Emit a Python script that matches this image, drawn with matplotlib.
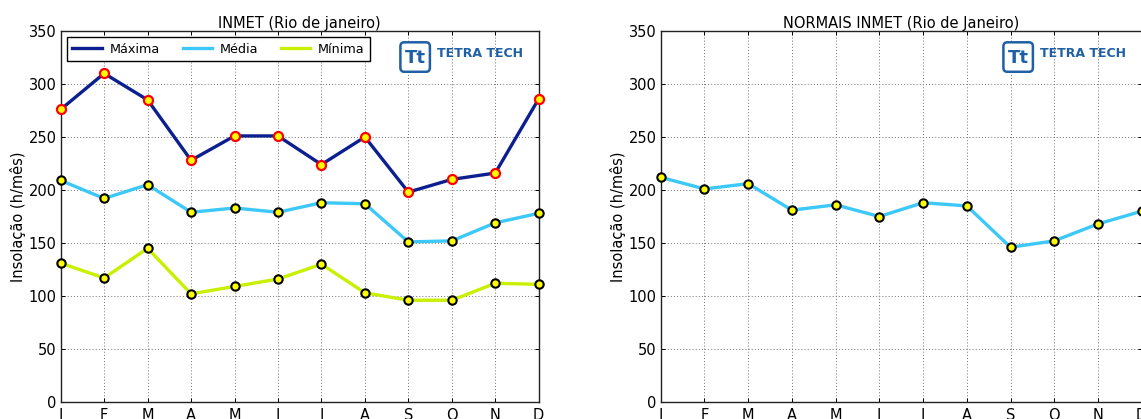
import matplotlib
matplotlib.use('Agg')
import matplotlib.pyplot as plt
from matplotlib.patches import FancyBboxPatch
from matplotlib.lines import Line2D

# ---------------- data ----------------
months = ['J', 'F', 'M', 'A', 'M', 'J', 'J', 'A', 'S', 'O', 'N', 'D']
maxima = [276, 310, 285, 228, 251, 251, 224, 250, 198, 210, 216, 286]
media = [209, 192, 205, 179, 183, 179, 188, 187, 151, 152, 169, 178]
minima = [131, 117, 145, 102, 109, 116, 130, 103, 96, 96, 112, 111]
normais = [212, 201, 206, 181, 186, 175, 188, 185, 146, 152, 168, 180]

title_left = 'INMET (Rio de janeiro)'
title_right = 'NORMAIS INMET (Rio de Janeiro)'
ylabel = 'Insolação (h/mês)'
legend_labels = ['Máxima', 'Média', 'Mínima']

# ---------------- style ----------------
W, H = 1141, 419
DPI = 100
C_MAX = '#0b1f8f'
C_MED = '#3cc8f8'
C_MIN = '#c8f000'
LOGO_BLUE = '#1f5fa6'

fig = plt.figure(figsize=(W / DPI, H / DPI), dpi=DPI)
fig.patch.set_facecolor('white')


def px_axes(x0, x1, ytop, ybot):
    return fig.add_axes([x0 / W, (H - ybot) / H, (x1 - x0) / W, (ybot - ytop) / H])


axL = px_axes(60.7, 538.7, 31, 402)
axR = px_axes(660.7, 1141.7, 31, 402)

x = list(range(len(months)))


def style_axes(ax, title):
    ax.set_xlim(0, 11)
    ax.set_ylim(0, 350)
    ax.set_yticks(range(0, 351, 50))
    ax.set_xticks(x)
    ax.set_xticklabels(months)
    ax.tick_params(direction='in', top=True, right=True, length=3.2, width=0.7,
                   labelsize=10.5, colors='black')
    ax.tick_params(axis='y', pad=3)
    ax.tick_params(axis='x', pad=4)
    ax.grid(True, color='0.45', linestyle=(0, (1, 2.2)), linewidth=0.7)
    ax.set_axisbelow(True)
    for s in ax.spines.values():
        s.set_linewidth(1.0)
        s.set_color('#222222')
    ax.set_title(title, fontsize=10.5, pad=2)
    ax.set_ylabel(ylabel, fontsize=10.5, labelpad=2)


def logo(ax):
    bb = ax.get_position()
    right_px = (bb.x0 + bb.width) * W
    top_px = (1 - (bb.y0 + bb.height)) * H  # from top
    bx0 = right_px - 139.5
    by_top = top_px + 10
    size = 32
    lax = fig.add_axes([bx0 / W, (H - by_top - size) / H, 130 / W, size / H])
    lax.set_xlim(0, 130)
    lax.set_ylim(0, size)
    lax.axis('off')
    box = FancyBboxPatch((1.2, 1.2), 29.5, 29.5,
                         boxstyle='round,pad=0,rounding_size=4',
                         facecolor='white', edgecolor=LOGO_BLUE, linewidth=1.8)
    lax.add_patch(box)
    lax.text(16, 15.5, 'Tt', ha='center', va='center', fontsize=13,
             fontweight='heavy', color=LOGO_BLUE)
    lax.text(38, 19.5, 'TETRA TECH', ha='left', va='center', fontsize=9,
             fontweight='bold', color=LOGO_BLUE)


# ---------------- left chart ----------------
style_axes(axL, title_left)
axL.plot(x, maxima, '-', color=C_MAX, lw=2.4, marker='o', markersize=6.5,
         markerfacecolor='yellow', markeredgecolor='red', markeredgewidth=1.6,
         label=legend_labels[0], clip_on=False, zorder=3)
axL.plot(x, media, '-', color=C_MED, lw=2.4, marker='o', markersize=6,
         markerfacecolor='yellow', markeredgecolor='black', markeredgewidth=1.5,
         label=legend_labels[1], clip_on=False, zorder=3)
axL.plot(x, minima, '-', color=C_MIN, lw=2.4, marker='o', markersize=6,
         markerfacecolor='yellow', markeredgecolor='black', markeredgewidth=1.5,
         label=legend_labels[2], clip_on=False, zorder=3)

handles = [Line2D([], [], color=C_MAX, lw=2.4),
           Line2D([], [], color=C_MED, lw=2.4),
           Line2D([], [], color=C_MIN, lw=2.4)]
leg = axL.legend(handles, legend_labels, loc='upper left', ncol=3, fontsize=9.2,
                 frameon=True, fancybox=False, framealpha=1, edgecolor='black',
                 handlelength=2.3, handletextpad=0.6, columnspacing=1.8,
                 borderaxespad=0.5, borderpad=0.4)
leg.get_frame().set_linewidth(1.0)
leg.set_zorder(5)

# ---------------- right chart ----------------
style_axes(axR, title_right)
axR.plot(x, normais, '-', color=C_MED, lw=2.4, marker='o', markersize=6,
         markerfacecolor='yellow', markeredgecolor='black', markeredgewidth=1.5,
         clip_on=False, zorder=3)

logo(axL)
logo(axR)

fig.savefig('out.png', dpi=DPI)
